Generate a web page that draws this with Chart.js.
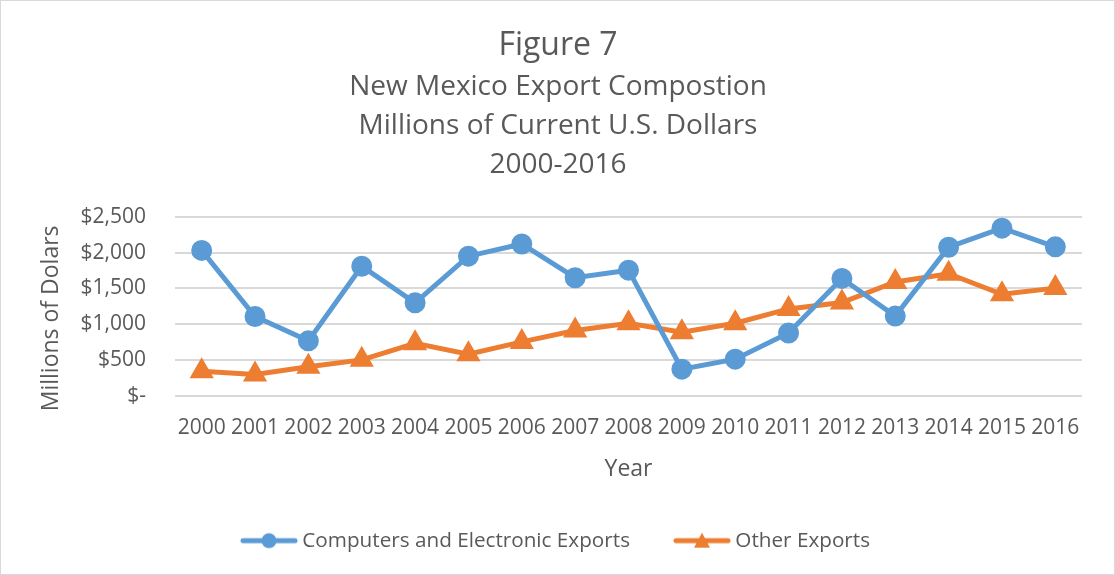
<!DOCTYPE html>
<html>
<head>
<meta charset="utf-8">
<script src="https://cdn.jsdelivr.net/npm/chart.js@4"></script>
<style>
    html, body { margin: 0; padding: 0; background: #fff; }
    #wrap { width: 1113px; height: 573px; border: 1px solid #d9d9d9; }
</style>
</head>
<body>
<div id="wrap"><canvas id="fig7" width="1113" height="573"></canvas></div>
<script>
const years = ['2000','2001','2002','2003','2004','2005','2006','2007','2008','2009','2010','2011','2012','2013','2014','2015','2016']
const computers = [2030, 1110, 770, 1810, 1300, 1950, 2120, 1650, 1755, 375, 515, 880, 1640, 1115, 2075, 2340, 2080]
const other = [345, 300, 410, 505, 735, 585, 755, 915, 1015, 890, 1015, 1215, 1305, 1590, 1705, 1420, 1505]
const yTicks = [0, 500, 1000, 1500, 2000, 2500]

const blue = '#5b9bd5'
const orange = '#ed7d31'
const grey = '#595959'
const fontName = '"Open Sans", sans-serif'

// little icon for legend: line with marker in the middle
function legendIcon(color, shape) {
    const c = document.createElement('canvas')
    c.width = 58
    c.height = 18
    const g = c.getContext('2d')
    g.strokeStyle = color
    g.lineWidth = 5
    g.lineCap = 'round'
    g.beginPath()
    g.moveTo(3, 9)
    g.lineTo(55, 9)
    g.stroke()
    g.fillStyle = color
    g.beginPath()
    if (shape == 'circle') {
        g.arc(29, 9, 7.5, 0, Math.PI * 2)
    } else {
        g.moveTo(29, 1)
        g.lineTo(37, 16)
        g.lineTo(21, 16)
        g.closePath()
    }
    g.fill()
    return c
}

const ctx = document.getElementById('fig7').getContext('2d')
const myChart = new Chart(ctx, {
    type: 'line',
    data: {
        labels: years,
        datasets: [{
            label: 'Computers and Electronic Exports',
            data: computers,
            borderColor: blue,
            backgroundColor: blue,
            borderWidth: 5,
            pointStyle: 'circle',
            pointRadius: 8,
            pointHoverRadius: 8,
            tension: 0
        }, {
            label: 'Other Exports',
            data: other,
            borderColor: orange,
            backgroundColor: orange,
            borderWidth: 5,
            pointStyle: 'triangle',
            pointRadius: 9,
            pointHoverRadius: 9,
            tension: 0
        }]
    },
    options: {
        responsive: false,
        animation: false,
        layout: { padding: { left: 33, right: 32, top: 24, bottom: 13 } },
        plugins: {
            title: {
                display: true,
                text: 'Figure 7',
                color: grey,
                font: { family: fontName, size: 32, weight: 'normal', lineHeight: 1.28 },
                padding: { top: 0, bottom: 2 }
            },
            subtitle: {
                display: true,
                text: ['New Mexico Export Compostion', 'Millions of Current U.S. Dollars', '2000-2016'],
                color: grey,
                font: { family: fontName, size: 28, weight: 'normal', lineHeight: 1.39 },
                padding: { top: 0, bottom: 32 }
            },
            legend: {
                position: 'bottom',
                labels: {
                    usePointStyle: true,
                    pointStyleWidth: 46,
                    boxHeight: 18,
                    padding: 49,
                    color: grey,
                    font: { family: fontName, size: 20.7 },
                    generateLabels: (chart) => chart.data.datasets.map((ds, i) => ({
                        text: ds.label,
                        fontColor: grey,
                        pointStyle: legendIcon(ds.borderColor, i == 0 ? 'circle' : 'triangle'),
                        datasetIndex: i,
                        lineWidth: 0,
                        strokeStyle: 'transparent',
                        fillStyle: 'transparent'
                    }))
                }
            },
            tooltip: { enabled: false }
        },
        scales: {
            x: {
                offset: true,
                grid: { display: false },
                border: { display: false },
                ticks: { color: grey, font: { family: fontName, size: 21 }, padding: 11, maxRotation: 0 },
                title: { display: true, text: 'Year', color: grey, font: { family: fontName, size: 23, lineHeight: 1 }, padding: { top: 7, bottom: 0 } }
            },
            y: {
                min: 0,
                max: 2500,
                afterBuildTicks: (axis) => { axis.ticks = yTicks.map(v => ({ value: v })) },
                afterFit: (axis) => { axis.width = 141 },
                grid: { color: '#d9d9d9', lineWidth: 2, drawTicks: false },
                border: { display: false },
                ticks: {
                    color: grey,
                    font: { family: fontName, size: 21 },
                    padding: 29,
                    callback: (v) => v == 0 ? '$-' : '$' + v.toLocaleString('en-US')
                },
                // trailing spaces push the text a bit lower, like the original
                title: { display: true, text: 'Millions of Dolars    ', color: grey, font: { family: fontName, size: 23 }, padding: { top: 4, bottom: 0 } }
            }
        }
    }
})
</script>
</body>
</html>
